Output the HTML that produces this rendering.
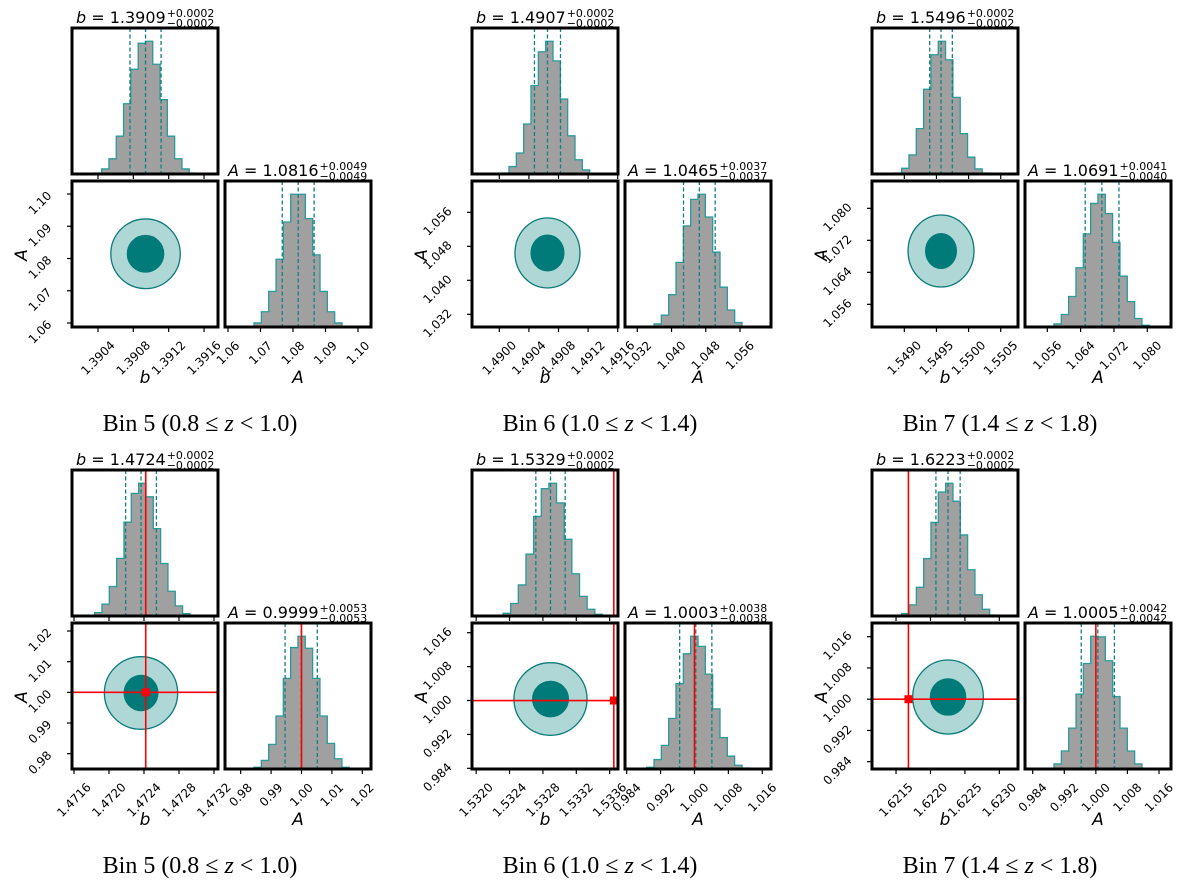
<!DOCTYPE html>
<html><head><meta charset="utf-8"><style>
html,body{margin:0;padding:0;background:#fff;}
svg{display:block;}
text{font-family:"DejaVu Sans","Liberation Sans",sans-serif;}
.cap{font-family:"Liberation Serif",serif;font-size:24px;}
</style></head>
<body>
<svg id="fig" width="1200" height="890" viewBox="0 0 1200 890" xmlns="http://www.w3.org/2000/svg"></svg>
<script>
const captions = [["Bin 5 (0.8 \u2264 ","z"," < 1.0)"],["Bin 6 (1.0 \u2264 ","z"," < 1.4)"],["Bin 7 (1.4 \u2264 ","z"," < 1.8)"],["Bin 5 (0.8 \u2264 ","z"," < 1.0)"],["Bin 6 (1.0 \u2264 ","z"," < 1.4)"],["Bin 7 (1.4 \u2264 ","z"," < 1.8)"]];
const bTitle = ["1.3909","1.4907","1.5496","1.4724","1.5329","1.6223"];
const bErrPlus = [0.0002,0.0002,0.0002,0.0002,0.0002,0.0002];
const bErrMinus = [0.0002,0.0002,0.0002,0.0002,0.0002,0.0002];
const bMedian = [1.390938,1.490651,1.549571,1.472366,1.532891,1.622255];
const ATitle = ["1.0816","1.0465","1.0691","0.9999","1.0003","1.0005"];
const AMedian = [1.0816,1.0465,1.0691,0.9999,1.0003,1.0005];
const AErrPlus = [0.0049,0.0037,0.0041,0.0053,0.0038,0.0042];
const AErrMinus = [0.0049,0.0037,0.0040,0.0053,0.0038,0.0042];
const truthB = [null,null,null,1.47242,1.53365,1.62168];
const truthA = [null,null,null,1.0,1.0,1.0];
// axis limits
const bLo = [1.390106,1.489631,1.548497,1.471577,1.53195,1.621151];
const bHi = [1.391758,1.491604,1.550769,1.473246,1.53370,1.623271];
const ALo = [1.05876,1.02901,1.05033,0.97501,0.98384,0.98213];
const AHi = [1.10403,1.06337,1.08683,1.02261,1.01829,1.01951];
const AxLo = [1.05908,1.02912,1.05065,0.97484,0.98360,0.98205];
const AxHi = [1.10400,1.06325,1.08569,1.02286,1.01806,1.01904];
// ticks
const bTicks = [["1.3904","1.3908","1.3912","1.3916"],["1.4900","1.4904","1.4908","1.4912","1.4916"],["1.5490","1.5495","1.5500","1.5505"],["1.4716","1.4720","1.4724","1.4728","1.4732"],["1.5320","1.5324","1.5328","1.5332","1.5336"],["1.6215","1.6220","1.6225","1.6230"]];
const ATicks = [["1.06","1.07","1.08","1.09","1.10"],["1.032","1.040","1.048","1.056"],["1.056","1.064","1.072","1.080"],["0.98","0.99","1.00","1.01","1.02"],["0.984","0.992","1.000","1.008","1.016"],["0.984","0.992","1.000","1.008","1.016"]];
// histograms
const bHistStart = [1.390359,1.490032,1.548844,1.471752,1.53223,1.621582];
const bHistWidth = [0.0000826,0.0000991,0.000114,0.0000838,0.0000917,0.0001064];
const bHist0 = [3,15,45,112,208,310,387,393,325,220,112,45,15,3];
const bHist1 = [3,22,62,148,262,362,393,335,222,113,42,12];
const bHist2 = [3,17,57,135,252,355,395,340,228,120,50,15,3];
const bHist3 = [2,10,35,87,170,277,362,392,352,258,155,73,30,7];
const bHist4 = [0,8,37,92,183,295,377,393,335,227,125,58,20,5];
const bHist5 = [7,33,85,170,277,367,393,340,240,137,63,20,3];
const AHistStart = [1.06576,1.03419,1.05584,0.98438,0.98872,0.98755];
const AHistWidth = [0.002256,0.001714,0.00176,0.00241,0.00173,0.001857];
const AHist0 = [2,12,45,105,200,310,392,392,320,213,105,45,12,2];
const AHist1 = [2,9,35,95,190,297,375,390,323,220,117,50,13,2];
const AHist2 = [2,9,37,90,175,275,365,392,335,250,150,75,25,5];
const AHist3 = [5,25,72,155,265,355,388,353,265,155,75,30,5];
const AHist4 = [5,28,70,150,253,341,393,363,281,178,93,38,11,3];
const AHist5 = [2,15,53,120,220,310,390,388,318,213,120,53,15,2];
const bHists = [bHist0,bHist1,bHist2,bHist3,bHist4,bHist5];
const AHists = [AHist0,AHist1,AHist2,AHist3,AHist4,AHist5];
// 2D contour extents (data units)
const outerRB = [0.000393,0.000439,0.000513,0.000419,0.000438,0.000513];
const outerRA = [0.0108,0.00824,0.0090,0.01184,0.00857,0.00947];
const innerRB = [0.000207,0.000223,0.000241,0.000194,0.000216,0.000258];
const innerRA = [0.0057,0.00424,0.00438,0.00577,0.0042,0.00466];
const centerA = [1.08146,1.04643,1.06933,0.99979,1.00035,1.00057];

const NS = "http://www.w3.org/2000/svg";
const svg = document.getElementById('fig');
function mk(tag, attrs, parent){
  const e = document.createElementNS(NS, tag);
  for (const k in attrs) e.setAttribute(k, attrs[k]);
  (parent||svg).appendChild(e);
  return e;
}
const X0=72,X1=218,RX0=225,RX1=371,TY0=28,TY1=174,MY0=181,MY1=327;
const TEAL="#13807f";
const FS=12;

function drawPanel(p, ox, oy){
  const g = mk('g',{transform:`translate(${ox},${oy})`});
  
  
  const xb = v => X0 + (v-bLo[p])/(bHi[p]-bLo[p])*(X1-X0);
  const yA = v => MY1 - (v-ALo[p])/(AHi[p]-ALo[p])*(MY1-MY0);
  const xA = v => RX0 + (v-AxLo[p])/(AxHi[p]-AxLo[p])*(RX1-RX0);

  // top histogram
  const bh = bHists[p], bmax = Math.max(...bh)*1.1;
  const yT = c => TY1 - c/bmax*(TY1-TY0);
  let d = `M${xb(bHistStart[p])},${TY1}`;
  bh.forEach((c,i)=>{
    const x0 = xb(bHistStart[p]+i*bHistWidth[p]), x1 = xb(bHistStart[p]+(i+1)*bHistWidth[p]);
    d += ` L${x0},${yT(c)} L${x1},${yT(c)}`;
  });
  d += ` L${xb(bHistStart[p]+bh.length*bHistWidth[p])},${TY1}`;
  const hb = mk('path',{d:d+' Z',fill:'#a0a0a0',stroke:'none'},g);
  
  
  const hbs = mk('path',{d:d,fill:'none',stroke:'#2a9a9a','stroke-width':1.3},g);
  
  
  [bMedian[p]-bErrMinus[p]*0.88,bMedian[p],bMedian[p]+bErrPlus[p]*0.88].forEach(v=>{
    const l = mk('line',{x1:xb(v),x2:xb(v),y1:TY0,y2:TY1,stroke:TEAL,'stroke-width':1.3,'stroke-dasharray':'4,2.5'},g);
    
    
  });

  // right histogram
  const ah = AHists[p], amax = Math.max(...ah)*1.1;
  const yR = c => MY1 - c/amax*(MY1-MY0);
  d = `M${xA(AHistStart[p])},${MY1}`;
  ah.forEach((c,i)=>{
    const x0 = xA(AHistStart[p]+i*AHistWidth[p]), x1 = xA(AHistStart[p]+(i+1)*AHistWidth[p]);
    d += ` L${x0},${yR(c)} L${x1},${yR(c)}`;
  });
  d += ` L${xA(AHistStart[p]+ah.length*AHistWidth[p])},${MY1}`;
  const ha = mk('path',{d:d+' Z',fill:'#a0a0a0',stroke:'none'},g);
  
  
  const has = mk('path',{d:d,fill:'none',stroke:'#2a9a9a','stroke-width':1.3},g);
  
  
  [AMedian[p]-AErrMinus[p],AMedian[p],AMedian[p]+AErrPlus[p]].forEach(v=>{
    const l = mk('line',{x1:xA(v),x2:xA(v),y1:MY0,y2:MY1,stroke:TEAL,'stroke-width':1.3,'stroke-dasharray':'4,2.5'},g);
    
    
  });

  // 2D contours
  const cx = xb(bMedian[p]), cy = yA(centerA[p]);
  const sx = (X1-X0)/(bHi[p]-bLo[p]), sy = (MY1-MY0)/(AHi[p]-ALo[p]);
  const oc = mk('ellipse',{cx:cx,cy:cy,rx:outerRB[p]*sx,ry:outerRA[p]*sy,fill:'#aed7d6',stroke:'#0b7a79','stroke-width':1.3},g);
  
  
  const ic = mk('ellipse',{cx:cx,cy:cy,rx:innerRB[p]*sx,ry:innerRA[p]*sy,fill:'#007b79',stroke:'#007b79','stroke-width':1},g);
  
  

  // truth lines
  if (truthB[p] !== null){
    const tx = xb(truthB[p]), ty = yA(truthA[p]), tax = xA(truthA[p]);
    [[tx,tx,TY0,TY1],[tx,tx,MY0,MY1],[X0,X1,ty,ty],[tax,tax,MY0,MY1]].forEach(c=>{
      const l = mk('line',{x1:c[0],x2:c[1],y1:c[2],y2:c[3],stroke:'#ff0000','stroke-width':1.6},g);
      
      
    });
    const m = mk('rect',{x:tx-4,y:ty-4,width:8,height:8,fill:'#ff0000'},g);
    
    
  }

  // boxes
  [[X0,TY0,'b-histogram-frame'],[X0,MY0,'joint-plot-frame'],[RX0,MY0,'A-histogram-frame']].forEach(b=>{
    const r = mk('rect',{x:b[0],y:b[1],width:146,height:146,fill:'none',stroke:'#000','stroke-width':3},g);
    
    
  });

  // ticks and labels
  function rotLabel(str, cxp, cyp, name){
    const t = mk('text',{x:cxp,y:cyp,'font-size':FS,'text-anchor':'middle','dominant-baseline':'central',transform:`rotate(-45 ${cxp} ${cyp})`},g);
    t.textContent = str;
    
    
    return t;
  }
  bTicks[p].forEach(s=>{
    const v = parseFloat(s), x = xb(v);
    mk('line',{x1:x,x2:x,y1:TY1,y2:TY1+5,stroke:'#000','stroke-width':1.2},g);
    mk('line',{x1:x,x2:x,y1:MY1,y2:MY1+5,stroke:'#000','stroke-width':1.2},g);
    const L = s.length*FS*0.58;
    const h = (L+FS*0.75)*0.707;
    rotLabel(s, x, MY1+13+h/2, 'b-tick-label');
  });
  ATicks[p].forEach(s=>{
    const v = parseFloat(s), y = yA(v), x = xA(v);
    mk('line',{x1:X0-5,x2:X0,y1:y,y2:y,stroke:'#000','stroke-width':1.2},g);
    mk('line',{x1:x,x2:x,y1:MY1,y2:MY1+5,stroke:'#000','stroke-width':1.2},g);
    const L = s.length*FS*0.58;
    const w = (L+FS*0.75)*0.707;
    rotLabel(s, X0-19-w/2, y+9, 'A-y-tick-label');
    rotLabel(s, x, MY1+13+w/2, 'A-x-tick-label');
  });

  // axis titles
  let t = mk('text',{x:145,y:383,'font-size':17,'font-style':'italic','text-anchor':'middle'},g);
  t.textContent='b';
   
  t = mk('text',{x:298,y:383,'font-size':17,'font-style':'italic','text-anchor':'middle'},g);
  t.textContent='A';
   
  t = mk('text',{x:27,y:255,'font-size':17,'font-style':'italic','text-anchor':'middle',transform:'rotate(-90 27 255)'},g);
  t.textContent='A';
   

  // panel titles
  function title(x, base, sym, val, plus, minus, name){
    const tg = mk('g',{},g);
    
    
    const m = mk('text',{x:x,y:base,'font-size':16},tg);
    const s1 = document.createElementNS(NS,'tspan'); s1.setAttribute('font-style','italic'); s1.textContent=sym; m.appendChild(s1);
    const s2 = document.createElementNS(NS,'tspan'); s2.textContent=' = '+val; m.appendChild(s2);
    const w = m.getComputedTextLength();
    const sp = mk('text',{x:x+w+1,y:base-6,'font-size':11},tg); sp.textContent='+'+plus.toFixed(4);
    const sb = mk('text',{x:x+w+1,y:base+4,'font-size':11},tg); sb.textContent='\u2212'+minus.toFixed(4);
  }
  title(76, 23, 'b', bTitle[p], bErrPlus[p], bErrMinus[p], 'b-title');
  title(228, 176, 'A', ATitle[p], AErrPlus[p], AErrMinus[p], 'A-title');
  mk('line',{x1:RX0-1.5,x2:RX1+1.5,y1:MY0,y2:MY0,stroke:'#000','stroke-width':3},g);
  mk('line',{x1:X0-1.5,x2:X1+1.5,y1:TY0,y2:TY0,stroke:'#000','stroke-width':3},g);

  // caption
  const c = mk('text',{x:200,y:431,'text-anchor':'middle',class:'cap'},g);
  const cc = captions[p];
  const a=document.createElementNS(NS,'tspan'); a.textContent=cc[0]; c.appendChild(a);
  const z=document.createElementNS(NS,'tspan'); z.setAttribute('font-style','italic'); z.textContent=cc[1]; c.appendChild(z);
  const e=document.createElementNS(NS,'tspan'); e.textContent=cc[2]; c.appendChild(e);
  
  
}
for (let p=0;p<6;p++) drawPanel(p, (p%3)*400, Math.floor(p/3)*442);
</script>
</body></html>
